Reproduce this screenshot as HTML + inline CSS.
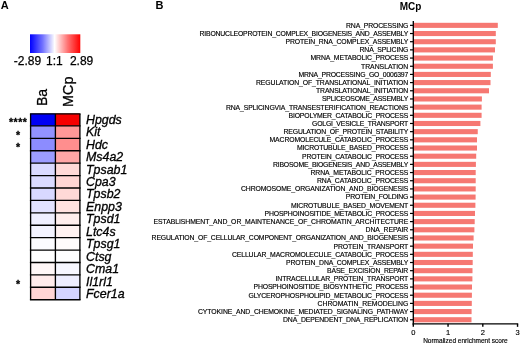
<!DOCTYPE html><html><head><meta charset="utf-8"><title>Figure</title>
<style>html,body{margin:0;padding:0;background:#fff;overflow:hidden}svg{display:block;filter:blur(0.35px)}text{font-family:"Liberation Sans",Arial,sans-serif;fill:#000}</style></head><body>
<svg width="520" height="344" viewBox="0 0 520 344">
<defs><linearGradient id="g" x1="0" x2="1" y1="0" y2="0"><stop offset="0" stop-color="#0000FF"/><stop offset="0.25" stop-color="#7272FF"/><stop offset="0.49" stop-color="#FFFFFF"/><stop offset="0.75" stop-color="#FF7272"/><stop offset="1" stop-color="#FF0000"/></linearGradient></defs>
<rect width="520" height="344" fill="#fff"/>
<text x="0.8" y="9.2" font-size="11" font-weight="bold">A</text>
<text x="155.4" y="9.2" font-size="11" font-weight="bold">B</text>
<text x="410.5" y="9.7" font-size="10" font-weight="bold" text-anchor="middle">MCp</text>
<rect x="30" y="34.3" width="50.3" height="18.7" fill="url(#g)"/>
<text x="13.8" y="65" font-size="12" stroke="#000" stroke-width="0.25">-2.89</text><text x="54.3" y="65" font-size="12" stroke="#000" stroke-width="0.25" text-anchor="middle">1:1</text><text x="93.3" y="65" font-size="12" stroke="#000" stroke-width="0.25" text-anchor="end">2.89</text>
<text transform="translate(47.2,106) rotate(-90)" font-size="14" stroke="#000" stroke-width="0.3">Ba</text>
<text transform="translate(72.8,107) rotate(-90)" font-size="14.4" stroke="#000" stroke-width="0.3">MCp</text>
<rect x="30.6" y="113.50" width="24.799999999999997" height="12.413333333333332" fill="#0000F4"/><rect x="55.4" y="113.50" width="24.500000000000007" height="12.413333333333332" fill="#F60000"/>
<rect x="30.6" y="125.91" width="24.799999999999997" height="12.413333333333332" fill="#9292FF"/><rect x="55.4" y="125.91" width="24.500000000000007" height="12.413333333333332" fill="#FF9898"/>
<rect x="30.6" y="138.33" width="24.799999999999997" height="12.413333333333332" fill="#8C8CFF"/><rect x="55.4" y="138.33" width="24.500000000000007" height="12.413333333333332" fill="#FF8E8E"/>
<rect x="30.6" y="150.74" width="24.799999999999997" height="12.413333333333332" fill="#9C9CFF"/><rect x="55.4" y="150.74" width="24.500000000000007" height="12.413333333333332" fill="#FFA6A6"/>
<rect x="30.6" y="163.15" width="24.799999999999997" height="12.413333333333332" fill="#DADAFF"/><rect x="55.4" y="163.15" width="24.500000000000007" height="12.413333333333332" fill="#FFD9D7"/>
<rect x="30.6" y="175.57" width="24.799999999999997" height="12.413333333333332" fill="#DADAFF"/><rect x="55.4" y="175.57" width="24.500000000000007" height="12.413333333333332" fill="#FFD6D4"/>
<rect x="30.6" y="187.98" width="24.799999999999997" height="12.413333333333332" fill="#D8D8FF"/><rect x="55.4" y="187.98" width="24.500000000000007" height="12.413333333333332" fill="#FFD9D7"/>
<rect x="30.6" y="200.39" width="24.799999999999997" height="12.413333333333332" fill="#E2E2FF"/><rect x="55.4" y="200.39" width="24.500000000000007" height="12.413333333333332" fill="#FFE2E0"/>
<rect x="30.6" y="212.81" width="24.799999999999997" height="12.413333333333332" fill="#EFEFFF"/><rect x="55.4" y="212.81" width="24.500000000000007" height="12.413333333333332" fill="#FFEEED"/>
<rect x="30.6" y="225.22" width="24.799999999999997" height="12.413333333333332" fill="#F3F3FF"/><rect x="55.4" y="225.22" width="24.500000000000007" height="12.413333333333332" fill="#FFF2F1"/>
<rect x="30.6" y="237.63" width="24.799999999999997" height="12.413333333333332" fill="#FCFCFF"/><rect x="55.4" y="237.63" width="24.500000000000007" height="12.413333333333332" fill="#FFFCFC"/>
<rect x="30.6" y="250.05" width="24.799999999999997" height="12.413333333333332" fill="#FFFFFF"/><rect x="55.4" y="250.05" width="24.500000000000007" height="12.413333333333332" fill="#FEFEFF"/>
<rect x="30.6" y="262.46" width="24.799999999999997" height="12.413333333333332" fill="#FFF7F7"/><rect x="55.4" y="262.46" width="24.500000000000007" height="12.413333333333332" fill="#F7F7FF"/>
<rect x="30.6" y="274.87" width="24.799999999999997" height="12.413333333333332" fill="#FFEBEB"/><rect x="55.4" y="274.87" width="24.500000000000007" height="12.413333333333332" fill="#EEEEFF"/>
<rect x="30.6" y="287.29" width="24.799999999999997" height="12.413333333333332" fill="#FFD5D5"/><rect x="55.4" y="287.29" width="24.500000000000007" height="12.413333333333332" fill="#D4D4FF"/>
<line x1="29.925" x2="80.575" y1="113.90" y2="113.90" stroke="#000" stroke-width="1.35"/>
<line x1="29.925" x2="80.575" y1="125.91" y2="125.91" stroke="#000" stroke-width="1.35"/>
<line x1="29.925" x2="80.575" y1="138.33" y2="138.33" stroke="#000" stroke-width="1.35"/>
<line x1="29.925" x2="80.575" y1="150.74" y2="150.74" stroke="#000" stroke-width="1.35"/>
<line x1="29.925" x2="80.575" y1="163.15" y2="163.15" stroke="#000" stroke-width="1.35"/>
<line x1="29.925" x2="80.575" y1="175.57" y2="175.57" stroke="#000" stroke-width="1.35"/>
<line x1="29.925" x2="80.575" y1="187.98" y2="187.98" stroke="#000" stroke-width="1.35"/>
<line x1="29.925" x2="80.575" y1="200.39" y2="200.39" stroke="#000" stroke-width="1.35"/>
<line x1="29.925" x2="80.575" y1="212.81" y2="212.81" stroke="#000" stroke-width="1.35"/>
<line x1="29.925" x2="80.575" y1="225.22" y2="225.22" stroke="#000" stroke-width="1.35"/>
<line x1="29.925" x2="80.575" y1="237.63" y2="237.63" stroke="#000" stroke-width="1.35"/>
<line x1="29.925" x2="80.575" y1="250.05" y2="250.05" stroke="#000" stroke-width="1.35"/>
<line x1="29.925" x2="80.575" y1="262.46" y2="262.46" stroke="#000" stroke-width="1.35"/>
<line x1="29.925" x2="80.575" y1="274.87" y2="274.87" stroke="#000" stroke-width="1.35"/>
<line x1="29.925" x2="80.575" y1="287.29" y2="287.29" stroke="#000" stroke-width="1.35"/>
<line x1="29.925" x2="80.575" y1="299.70" y2="299.70" stroke="#000" stroke-width="1.35"/>
<line x1="30.6" x2="30.6" y1="113.90" y2="299.70" stroke="#000" stroke-width="1.35"/>
<line x1="55.4" x2="55.4" y1="113.90" y2="299.70" stroke="#000" stroke-width="1.35"/>
<line x1="79.9" x2="79.9" y1="113.90" y2="299.70" stroke="#000" stroke-width="1.35"/>
<text x="86" y="123.70" font-size="12.4" font-style="italic" stroke="#000" stroke-width="0.3">Hpgds</text>
<text x="18.2" y="126.31" font-size="10.5" text-anchor="middle" font-weight="bold" letter-spacing="0.5" stroke="#000" stroke-width="0.3">****</text>
<text x="86" y="136.15" font-size="12.4" font-style="italic" stroke="#000" stroke-width="0.3">Kit</text>
<text x="18.2" y="138.72" font-size="10.5" text-anchor="middle" font-weight="bold" letter-spacing="0.5" stroke="#000" stroke-width="0.3">*</text>
<text x="86" y="148.60" font-size="12.4" font-style="italic" stroke="#000" stroke-width="0.3">Hdc</text>
<text x="18.2" y="151.13" font-size="10.5" text-anchor="middle" font-weight="bold" letter-spacing="0.5" stroke="#000" stroke-width="0.3">*</text>
<text x="86" y="161.05" font-size="12.4" font-style="italic" stroke="#000" stroke-width="0.3">Ms4a2</text>
<text x="86" y="173.50" font-size="12.4" font-style="italic" stroke="#000" stroke-width="0.3">Tpsab1</text>
<text x="86" y="185.95" font-size="12.4" font-style="italic" stroke="#000" stroke-width="0.3">Cpa3</text>
<text x="86" y="198.40" font-size="12.4" font-style="italic" stroke="#000" stroke-width="0.3">Tpsb2</text>
<text x="86" y="210.85" font-size="12.4" font-style="italic" stroke="#000" stroke-width="0.3">Enpp3</text>
<text x="86" y="223.30" font-size="12.4" font-style="italic" stroke="#000" stroke-width="0.3">Tpsd1</text>
<text x="86" y="235.75" font-size="12.4" font-style="italic" stroke="#000" stroke-width="0.3">Ltc4s</text>
<text x="86" y="248.20" font-size="12.4" font-style="italic" stroke="#000" stroke-width="0.3">Tpsg1</text>
<text x="86" y="260.65" font-size="12.4" font-style="italic" stroke="#000" stroke-width="0.3">Ctsg</text>
<text x="86" y="273.10" font-size="12.4" font-style="italic" stroke="#000" stroke-width="0.3">Cma1</text>
<text x="86" y="285.55" font-size="12.4" font-style="italic" stroke="#000" stroke-width="0.3">Il1rl1</text>
<text x="18.2" y="287.68" font-size="10.5" text-anchor="middle" font-weight="bold" letter-spacing="0.5" stroke="#000" stroke-width="0.3">*</text>
<text x="86" y="298.00" font-size="12.4" font-style="italic" stroke="#000" stroke-width="0.3">Fcer1a</text>
<rect x="413.3" y="22.80" width="84.50" height="5.1" fill="#F67872"/>
<line x1="410" x2="413.3" y1="25.35" y2="25.35" stroke="#000" stroke-width="1.2"/>
<text x="346.00" y="27.75" font-size="6.85" textLength="62.30" stroke="#000" stroke-width="0.15">RNA_PROCESSING</text>
<rect x="413.3" y="30.98" width="82.50" height="5.1" fill="#F67872"/>
<line x1="410" x2="413.3" y1="33.53" y2="33.53" stroke="#000" stroke-width="1.2"/>
<text x="199.60" y="35.93" font-size="6.85" textLength="208.70" stroke="#000" stroke-width="0.15">RIBONUCLEOPROTEIN_COMPLEX_BIOGENESIS_AND_ASSEMBLY</text>
<rect x="413.3" y="39.16" width="82.50" height="5.1" fill="#F67872"/>
<line x1="410" x2="413.3" y1="41.71" y2="41.71" stroke="#000" stroke-width="1.2"/>
<text x="285.50" y="44.11" font-size="6.85" textLength="122.80" stroke="#000" stroke-width="0.15">PROTEIN_RNA_COMPLEX_ASSEMBLY</text>
<rect x="413.3" y="47.33" width="81.70" height="5.1" fill="#F67872"/>
<line x1="410" x2="413.3" y1="49.88" y2="49.88" stroke="#000" stroke-width="1.2"/>
<text x="359.50" y="52.28" font-size="6.85" textLength="48.80" stroke="#000" stroke-width="0.15">RNA_SPLICING</text>
<rect x="413.3" y="55.51" width="79.60" height="5.1" fill="#F67872"/>
<line x1="410" x2="413.3" y1="58.06" y2="58.06" stroke="#000" stroke-width="1.2"/>
<text x="310.50" y="60.46" font-size="6.85" textLength="97.80" stroke="#000" stroke-width="0.15">MRNA_METABOLIC_PROCESS</text>
<rect x="413.3" y="63.69" width="79.60" height="5.1" fill="#F67872"/>
<line x1="410" x2="413.3" y1="66.24" y2="66.24" stroke="#000" stroke-width="1.2"/>
<text x="361.00" y="68.64" font-size="6.85" textLength="47.30" stroke="#000" stroke-width="0.15">TRANSLATION</text>
<rect x="413.3" y="71.87" width="77.50" height="5.1" fill="#F67872"/>
<line x1="410" x2="413.3" y1="74.42" y2="74.42" stroke="#000" stroke-width="1.2"/>
<text x="298.50" y="76.82" font-size="6.85" textLength="109.80" stroke="#000" stroke-width="0.15">MRNA_PROCESSING_GO_0006397</text>
<rect x="413.3" y="80.04" width="77.20" height="5.1" fill="#F67872"/>
<line x1="410" x2="413.3" y1="82.59" y2="82.59" stroke="#000" stroke-width="1.2"/>
<text x="256.00" y="84.99" font-size="6.85" textLength="152.30" stroke="#000" stroke-width="0.15">REGULATION_OF_TRANSLATIONAL_INITIATION</text>
<rect x="413.3" y="88.22" width="75.70" height="5.1" fill="#F67872"/>
<line x1="410" x2="413.3" y1="90.77" y2="90.77" stroke="#000" stroke-width="1.2"/>
<text x="316.00" y="93.17" font-size="6.85" textLength="92.30" stroke="#000" stroke-width="0.15">TRANSLATIONAL_INITIATION</text>
<rect x="413.3" y="96.40" width="68.60" height="5.1" fill="#F67872"/>
<line x1="410" x2="413.3" y1="98.95" y2="98.95" stroke="#000" stroke-width="1.2"/>
<text x="322.00" y="101.35" font-size="6.85" textLength="86.30" stroke="#000" stroke-width="0.15">SPLICEOSOME_ASSEMBLY</text>
<rect x="413.3" y="104.58" width="68.30" height="5.1" fill="#F67872"/>
<line x1="410" x2="413.3" y1="107.13" y2="107.13" stroke="#000" stroke-width="1.2"/>
<text x="226.00" y="109.53" font-size="6.85" textLength="182.30" stroke="#000" stroke-width="0.15">RNA_SPLICINGVIA_TRANSESTERIFICATION_REACTIONS</text>
<rect x="413.3" y="112.76" width="68.30" height="5.1" fill="#F67872"/>
<line x1="410" x2="413.3" y1="115.31" y2="115.31" stroke="#000" stroke-width="1.2"/>
<text x="288.50" y="117.71" font-size="6.85" textLength="119.80" stroke="#000" stroke-width="0.15">BIOPOLYMER_CATABOLIC_PROCESS</text>
<rect x="413.3" y="120.93" width="67.10" height="5.1" fill="#F67872"/>
<line x1="410" x2="413.3" y1="123.48" y2="123.48" stroke="#000" stroke-width="1.2"/>
<text x="312.00" y="125.88" font-size="6.85" textLength="96.30" stroke="#000" stroke-width="0.15">GOLGI_VESICLE_TRANSPORT</text>
<rect x="413.3" y="129.11" width="64.45" height="5.1" fill="#F67872"/>
<line x1="410" x2="413.3" y1="131.66" y2="131.66" stroke="#000" stroke-width="1.2"/>
<text x="283.50" y="134.06" font-size="6.85" textLength="124.80" stroke="#000" stroke-width="0.15">REGULATION_OF_PROTEIN_STABILITY</text>
<rect x="413.3" y="137.29" width="63.70" height="5.1" fill="#F67872"/>
<line x1="410" x2="413.3" y1="139.84" y2="139.84" stroke="#000" stroke-width="1.2"/>
<text x="269.50" y="142.24" font-size="6.85" textLength="138.80" stroke="#000" stroke-width="0.15">MACROMOLECULE_CATABOLIC_PROCESS</text>
<rect x="413.3" y="145.47" width="63.70" height="5.1" fill="#F67872"/>
<line x1="410" x2="413.3" y1="148.02" y2="148.02" stroke="#000" stroke-width="1.2"/>
<text x="297.00" y="150.42" font-size="6.85" textLength="111.30" stroke="#000" stroke-width="0.15">MICROTUBULE_BASED_PROCESS</text>
<rect x="413.3" y="153.64" width="62.90" height="5.1" fill="#F67872"/>
<line x1="410" x2="413.3" y1="156.19" y2="156.19" stroke="#000" stroke-width="1.2"/>
<text x="302.00" y="158.59" font-size="6.85" textLength="106.30" stroke="#000" stroke-width="0.15">PROTEIN_CATABOLIC_PROCESS</text>
<rect x="413.3" y="161.82" width="62.60" height="5.1" fill="#F67872"/>
<line x1="410" x2="413.3" y1="164.37" y2="164.37" stroke="#000" stroke-width="1.2"/>
<text x="273.00" y="166.77" font-size="6.85" textLength="135.30" stroke="#000" stroke-width="0.15">RIBOSOME_BIOGENESIS_AND_ASSEMBLY</text>
<rect x="413.3" y="170.00" width="62.40" height="5.1" fill="#F67872"/>
<line x1="410" x2="413.3" y1="172.55" y2="172.55" stroke="#000" stroke-width="1.2"/>
<text x="310.50" y="174.95" font-size="6.85" textLength="97.80" stroke="#000" stroke-width="0.15">RRNA_METABOLIC_PROCESS</text>
<rect x="413.3" y="178.18" width="62.40" height="5.1" fill="#F67872"/>
<line x1="410" x2="413.3" y1="180.73" y2="180.73" stroke="#000" stroke-width="1.2"/>
<text x="317.00" y="183.13" font-size="6.85" textLength="91.30" stroke="#000" stroke-width="0.15">RNA_CATABOLIC_PROCESS</text>
<rect x="413.3" y="186.36" width="62.40" height="5.1" fill="#F67872"/>
<line x1="410" x2="413.3" y1="188.91" y2="188.91" stroke="#000" stroke-width="1.2"/>
<text x="241.00" y="191.31" font-size="6.85" textLength="167.30" stroke="#000" stroke-width="0.15">CHROMOSOME_ORGANIZATION_AND_BIOGENESIS</text>
<rect x="413.3" y="194.53" width="62.30" height="5.1" fill="#F67872"/>
<line x1="410" x2="413.3" y1="197.08" y2="197.08" stroke="#000" stroke-width="1.2"/>
<text x="345.80" y="199.48" font-size="6.85" textLength="62.50" stroke="#000" stroke-width="0.15">PROTEIN_FOLDING</text>
<rect x="413.3" y="202.71" width="62.10" height="5.1" fill="#F67872"/>
<line x1="410" x2="413.3" y1="205.26" y2="205.26" stroke="#000" stroke-width="1.2"/>
<text x="291.00" y="207.66" font-size="6.85" textLength="117.30" stroke="#000" stroke-width="0.15">MICROTUBULE_BASED_MOVEMENT</text>
<rect x="413.3" y="210.89" width="61.70" height="5.1" fill="#F67872"/>
<line x1="410" x2="413.3" y1="213.44" y2="213.44" stroke="#000" stroke-width="1.2"/>
<text x="264.50" y="215.84" font-size="6.85" textLength="143.80" stroke="#000" stroke-width="0.15">PHOSPHOINOSITIDE_METABOLIC_PROCESS</text>
<rect x="413.3" y="219.07" width="61.40" height="5.1" fill="#F67872"/>
<line x1="410" x2="413.3" y1="221.62" y2="221.62" stroke="#000" stroke-width="1.2"/>
<text x="153.50" y="224.02" font-size="6.85" textLength="254.80" stroke="#000" stroke-width="0.15">ESTABLISHMENT_AND_OR_MAINTENANCE_OF_CHROMATIN_ARCHITECTURE</text>
<rect x="413.3" y="227.24" width="61.10" height="5.1" fill="#F67872"/>
<line x1="410" x2="413.3" y1="229.79" y2="229.79" stroke="#000" stroke-width="1.2"/>
<text x="365.50" y="232.19" font-size="6.85" textLength="42.80" stroke="#000" stroke-width="0.15">DNA_REPAIR</text>
<rect x="413.3" y="235.42" width="60.30" height="5.1" fill="#F67872"/>
<line x1="410" x2="413.3" y1="237.97" y2="237.97" stroke="#000" stroke-width="1.2"/>
<text x="151.60" y="240.37" font-size="6.85" textLength="256.70" stroke="#000" stroke-width="0.15">REGULATION_OF_CELLULAR_COMPONENT_ORGANIZATION_AND_BIOGENESIS</text>
<rect x="413.3" y="243.60" width="59.70" height="5.1" fill="#F67872"/>
<line x1="410" x2="413.3" y1="246.15" y2="246.15" stroke="#000" stroke-width="1.2"/>
<text x="333.50" y="248.55" font-size="6.85" textLength="74.80" stroke="#000" stroke-width="0.15">PROTEIN_TRANSPORT</text>
<rect x="413.3" y="251.78" width="59.50" height="5.1" fill="#F67872"/>
<line x1="410" x2="413.3" y1="254.33" y2="254.33" stroke="#000" stroke-width="1.2"/>
<text x="232.00" y="256.73" font-size="6.85" textLength="176.30" stroke="#000" stroke-width="0.15">CELLULAR_MACROMOLECULE_CATABOLIC_PROCESS</text>
<rect x="413.3" y="259.96" width="59.40" height="5.1" fill="#F67872"/>
<line x1="410" x2="413.3" y1="262.51" y2="262.51" stroke="#000" stroke-width="1.2"/>
<text x="286.00" y="264.91" font-size="6.85" textLength="122.30" stroke="#000" stroke-width="0.15">PROTEIN_DNA_COMPLEX_ASSEMBLY</text>
<rect x="413.3" y="268.13" width="59.20" height="5.1" fill="#F67872"/>
<line x1="410" x2="413.3" y1="270.68" y2="270.68" stroke="#000" stroke-width="1.2"/>
<text x="327.00" y="273.08" font-size="6.85" textLength="81.30" stroke="#000" stroke-width="0.15">BASE_EXCISION_REPAIR</text>
<rect x="413.3" y="276.31" width="59.10" height="5.1" fill="#F67872"/>
<line x1="410" x2="413.3" y1="278.86" y2="278.86" stroke="#000" stroke-width="1.2"/>
<text x="275.50" y="281.26" font-size="6.85" textLength="132.80" stroke="#000" stroke-width="0.15">INTRACELLULAR_PROTEIN_TRANSPORT</text>
<rect x="413.3" y="284.49" width="58.70" height="5.1" fill="#F67872"/>
<line x1="410" x2="413.3" y1="287.04" y2="287.04" stroke="#000" stroke-width="1.2"/>
<text x="253.50" y="289.44" font-size="6.85" textLength="154.80" stroke="#000" stroke-width="0.15">PHOSPHOINOSITIDE_BIOSYNTHETIC_PROCESS</text>
<rect x="413.3" y="292.67" width="58.60" height="5.1" fill="#F67872"/>
<line x1="410" x2="413.3" y1="295.22" y2="295.22" stroke="#000" stroke-width="1.2"/>
<text x="248.50" y="297.62" font-size="6.85" textLength="159.80" stroke="#000" stroke-width="0.15">GLYCEROPHOSPHOLIPID_METABOLIC_PROCESS</text>
<rect x="413.3" y="300.84" width="58.50" height="5.1" fill="#F67872"/>
<line x1="410" x2="413.3" y1="303.39" y2="303.39" stroke="#000" stroke-width="1.2"/>
<text x="317.50" y="305.79" font-size="6.85" textLength="90.80" stroke="#000" stroke-width="0.15">CHROMATIN_REMODELING</text>
<rect x="413.3" y="309.02" width="58.30" height="5.1" fill="#F67872"/>
<line x1="410" x2="413.3" y1="311.57" y2="311.57" stroke="#000" stroke-width="1.2"/>
<text x="198.00" y="313.97" font-size="6.85" textLength="210.30" stroke="#000" stroke-width="0.15">CYTOKINE_AND_CHEMOKINE_MEDIATED_SIGNALING_PATHWAY</text>
<rect x="413.3" y="317.20" width="58.20" height="5.1" fill="#F67872"/>
<line x1="410" x2="413.3" y1="319.75" y2="319.75" stroke="#000" stroke-width="1.2"/>
<text x="283.00" y="322.15" font-size="6.85" textLength="125.30" stroke="#000" stroke-width="0.15">DNA_DEPENDENT_DNA_REPLICATION</text>
<line x1="413.3" x2="413.3" y1="21" y2="324.52500000000003" stroke="#000" stroke-width="1.35"/>
<line x1="412.625" x2="518.2" y1="323.85" y2="323.85" stroke="#000" stroke-width="1.35"/>
<line x1="413.30" x2="413.30" y1="323.85" y2="326.85" stroke="#000" stroke-width="1.4"/>
<text x="413.30" y="334.5" font-size="7.5" text-anchor="middle" stroke="#000" stroke-width="0.15">0</text>
<line x1="448.05" x2="448.05" y1="323.85" y2="326.85" stroke="#000" stroke-width="1.4"/>
<text x="448.05" y="334.5" font-size="7.5" text-anchor="middle" stroke="#000" stroke-width="0.15">1</text>
<line x1="482.80" x2="482.80" y1="323.85" y2="326.85" stroke="#000" stroke-width="1.4"/>
<text x="482.80" y="334.5" font-size="7.5" text-anchor="middle" stroke="#000" stroke-width="0.15">2</text>
<line x1="517.55" x2="517.55" y1="323.85" y2="326.85" stroke="#000" stroke-width="1.4"/>
<text x="517.55" y="334.5" font-size="7.5" text-anchor="middle" stroke="#000" stroke-width="0.15">3</text>
<text x="465.4" y="343.3" font-size="6.5" text-anchor="middle" letter-spacing="0" stroke="#000" stroke-width="0.15">Normalized enrichment score</text>
</svg></body></html>
